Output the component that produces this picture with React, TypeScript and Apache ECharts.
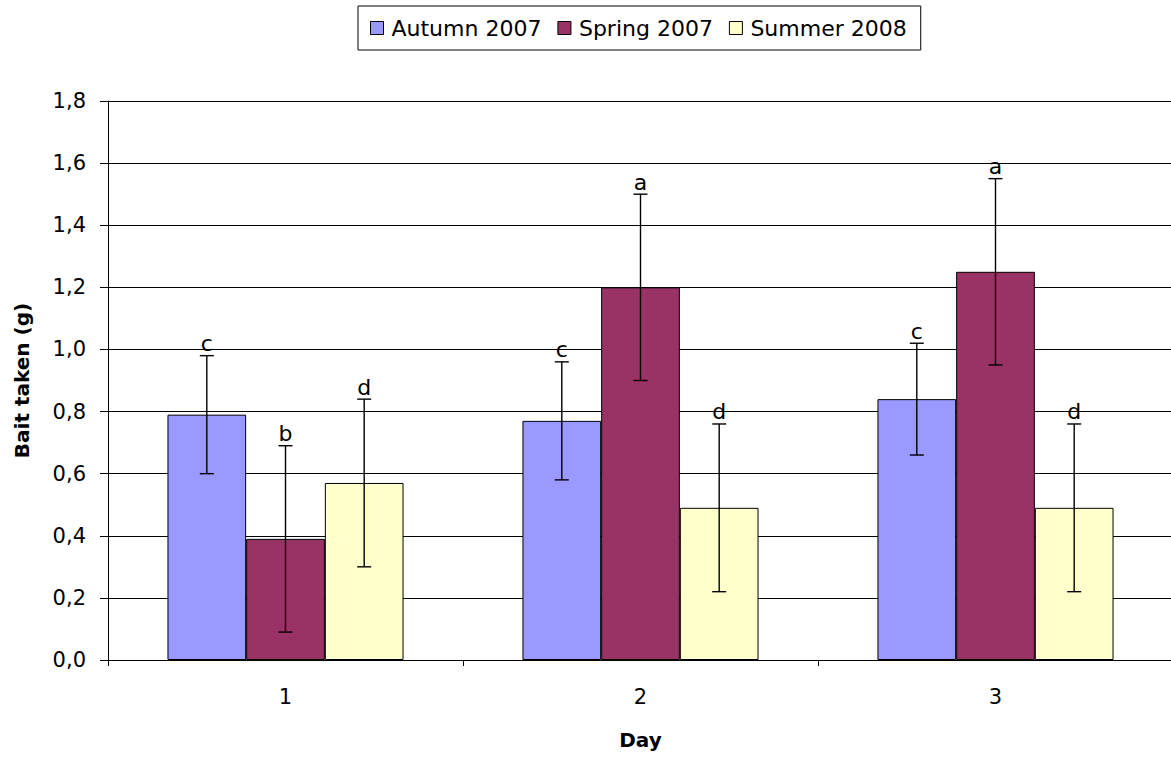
import React, { useEffect, useRef } from "react";
import * as echarts from "echarts";

const days = ["1", "2", "3"];
const seasons = ["Autumn 2007", "Spring 2007", "Summer 2008"];
const colors = ["#9999FF", "#993366", "#FFFFCC"];

const autumn = [0.79, 0.77, 0.84];
const spring = [0.39, 1.2, 1.25];
const summer = [0.57, 0.49, 0.49];

const autumnErr = [0.19, 0.19, 0.18];
const springErr = [0.3, 0.3, 0.3];
const summerErr = [0.27, 0.27, 0.27];

const autumnLetters = ["c", "c", "c"];
const springLetters = ["b", "a", "a"];
const summerLetters = ["d", "d", "d"];

const values = [autumn, spring, summer];
const errors = [autumnErr, springErr, summerErr];
const letters = [autumnLetters, springLetters, summerLetters];

const CATEGORY_GAP = 0.335;
const FONT = "'DejaVu Sans', Verdana, sans-serif";

export default function App() {
  const ref = useRef<HTMLDivElement>(null);

  useEffect(() => {
    if (!ref.current) return;
    const chart = echarts.init(ref.current, undefined, { renderer: "svg" });

    const barSeries = seasons.map((name, s) => ({
      name,
      type: "bar",
      data: values[s],
      barGap: "0%",
      barCategoryGap: CATEGORY_GAP * 100 + "%",
      itemStyle: { color: colors[s], borderColor: "#000", borderWidth: 1 },
      z: 2,
    }));

    const errorSeries = seasons.map((name, s) => ({
      name: name + " error",
      type: "custom",
      silent: true,
      z: 5,
      data: values[s].map((v, i) => [i, v]),
      renderItem: (params: any, api: any) => {
        const i = api.value(0);
        const v = api.value(1);
        const e = errors[s][params.dataIndex];
        const band = api.size([1, 0])[0];
        const barW = (band * (1 - CATEGORY_GAP)) / 3;
        const center = api.coord([i, v])[0] + (s - 1) * barW;
        const top = api.coord([i, v + e])[1];
        const bottom = api.coord([i, v - e])[1];
        const cap = 7;
        const lineStyle = { stroke: "#000", lineWidth: 1.4 };
        return {
          type: "group",
          children: [
            { type: "line", shape: { x1: center, y1: top, x2: center, y2: bottom }, style: lineStyle },
            { type: "line", shape: { x1: center - cap, y1: top, x2: center + cap, y2: top }, style: lineStyle },
            { type: "line", shape: { x1: center - cap, y1: bottom, x2: center + cap, y2: bottom }, style: lineStyle },
            {
              type: "text",
              style: {
                x: center,
                y: top - 1,
                text: letters[s][params.dataIndex],
                align: "center",
                verticalAlign: "bottom",
                fill: "#000",
                font: "22px " + FONT,
              },
            },
          ],
        };
      },
    }));

    chart.setOption({
      animation: false,
      backgroundColor: "#fff",
      textStyle: { fontFamily: FONT },
      legend: {
        data: seasons,
        top: 6,
        left: 358,
        itemWidth: 13,
        itemHeight: 13,
        itemGap: 16,
        icon: "rect",
        borderColor: "#000",
        borderWidth: 1,
        padding: [11, 14, 11, 12],
        textStyle: { fontSize: 22, color: "#000", fontFamily: FONT, padding: [0, 0, 0, 3] },
        itemStyle: { borderColor: "#000", borderWidth: 1 },
      },
      grid: { left: 108, right: -2, top: 101, bottom: 100, outerBoundsMode: "none", containLabel: false },
      xAxis: {
        type: "category",
        data: days,
        name: "Day",
        nameLocation: "middle",
        nameGap: 70,
        nameTextStyle: { fontSize: 20, fontWeight: "bold", color: "#000", fontFamily: FONT },
        axisLine: { lineStyle: { color: "#000", width: 1 } },
        axisTick: { show: true, length: 6, lineStyle: { color: "#000" } },
        axisLabel: { fontSize: 21, color: "#000", margin: 26, fontFamily: FONT },
      },
      yAxis: {
        type: "value",
        min: 0,
        max: 1.8,
        interval: 0.2,
        name: "Bait taken (g)",
        nameLocation: "middle",
        nameGap: 76,
        nameTextStyle: { fontSize: 20, fontWeight: "bold", color: "#000", fontFamily: FONT },
        axisLine: { show: true, lineStyle: { color: "#000", width: 1 } },
        axisTick: { show: true, length: 8, lineStyle: { color: "#000" } },
        axisLabel: {
          fontSize: 21,
          color: "#000",
          margin: 22,
          fontFamily: FONT,
          formatter: (v: number) => v.toFixed(1).replace(".", ","),
        },
        splitLine: { lineStyle: { color: "#000", width: 1 } },
      },
      series: [...barSeries, ...errorSeries],
    });

    return () => chart.dispose();
  }, []);

  return (
    <div
      ref={ref}
      style={{ position: "fixed", left: 0, top: 0, width: 1171, height: 760 }}
    />
  );
}
